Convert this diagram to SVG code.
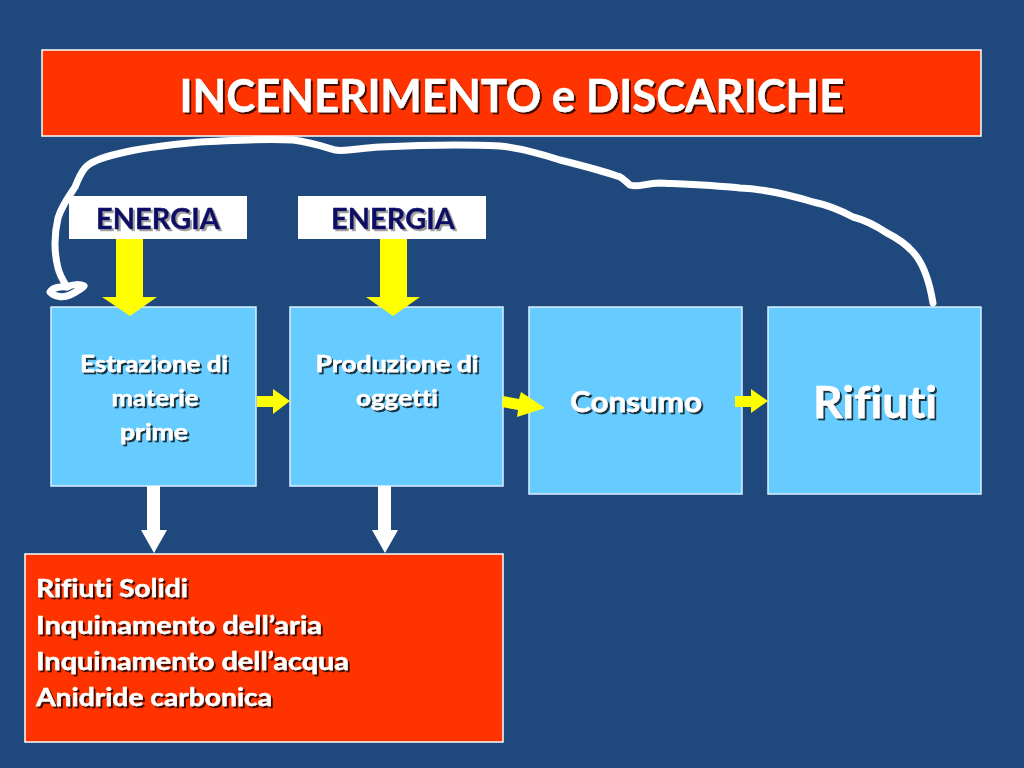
<svg xmlns="http://www.w3.org/2000/svg" width="1024" height="768" viewBox="0 0 1024 768">
<defs>
<style>
.bg{fill:#1F497D}
.box{fill:#66CCFF;stroke:#DDEEFF;stroke-width:1.5}
.red{fill:#FF3300;stroke:#FFFFFF;stroke-width:1.5}
.wbox{fill:#FFFFFF}
.t{font-family:Lato,"Open Sans","Liberation Sans",sans-serif;font-weight:bold;fill:#FFFFFF;stroke:#FFFFFF;stroke-width:0.4;font-variant-ligatures:none;filter:url(#sh)}
.tn{font-family:Lato,"Open Sans","Liberation Sans",sans-serif;font-weight:bold;fill:#0A0A66;stroke:#0A0A66;stroke-width:0.4;font-variant-ligatures:none;filter:url(#sh2)}
.ya{fill:#FFFF00}
.wa{fill:#FFFFFF}
.loop{fill:none;stroke:#FFFFFF;stroke-width:7;stroke-linecap:round;stroke-linejoin:round}
</style>
<filter id="sh" x="-10%" y="-30%" width="130%" height="160%">
<feDropShadow dx="2" dy="2" stdDeviation="0.6" flood-color="#000000" flood-opacity="0.75"/>
</filter>
<filter id="sh2" x="-10%" y="-30%" width="130%" height="160%">
<feDropShadow dx="2" dy="2" stdDeviation="0.6" flood-color="#888888" flood-opacity="0.8"/>
</filter>
</defs>
<rect class="bg" x="0" y="0" width="1024" height="768"/>

<g id="title">
<rect class="red" x="42" y="50" width="939" height="86"/>
<text class="t" x="512" y="112" font-size="45" text-anchor="middle" textLength="665" lengthAdjust="spacingAndGlyphs">INCENERIMENTO e DISCARICHE</text>
</g>

<g id="energia1">
<rect class="wbox" x="69" y="196" width="178" height="43"/>
<text class="tn" x="158" y="229" font-size="29" text-anchor="middle" textLength="124" lengthAdjust="spacingAndGlyphs">ENERGIA</text>
</g>
<g id="energia2">
<rect class="wbox" x="298" y="196" width="188" height="43"/>
<text class="tn" x="393" y="229" font-size="29" text-anchor="middle" textLength="124" lengthAdjust="spacingAndGlyphs">ENERGIA</text>
</g>

<g id="estrazione">
<rect class="box" x="51" y="307" width="205" height="179"/>
<text class="t" x="154" y="372" font-size="22" text-anchor="middle" textLength="148" lengthAdjust="spacingAndGlyphs">Estrazione di</text>
<text class="t" x="155" y="406" font-size="22" text-anchor="middle" textLength="87" lengthAdjust="spacingAndGlyphs">materie</text>
<text class="t" x="154" y="440" font-size="22" text-anchor="middle" textLength="68" lengthAdjust="spacingAndGlyphs">prime</text>
</g>
<g id="produzione">
<rect class="box" x="290" y="307" width="213" height="179"/>
<text class="t" x="397" y="372" font-size="22" text-anchor="middle" textLength="163" lengthAdjust="spacingAndGlyphs">Produzione di</text>
<text class="t" x="397" y="406" font-size="22" text-anchor="middle" textLength="82" lengthAdjust="spacingAndGlyphs">oggetti</text>
</g>
<g id="consumo">
<rect class="box" x="529" y="307" width="213" height="187"/>
<text class="t" x="636" y="412" font-size="29" text-anchor="middle" textLength="132" lengthAdjust="spacingAndGlyphs">Consumo</text>
</g>
<g id="rifiuti">
<rect class="box" x="768" y="307" width="213" height="187"/>
<text class="t" x="875" y="418" font-size="44" text-anchor="middle" textLength="124" lengthAdjust="spacingAndGlyphs">Rifiuti</text>
</g>

<g id="impatti">
<rect class="red" x="25" y="554" width="478" height="188"/>
<text class="t" x="36" y="597" font-size="24" textLength="152" lengthAdjust="spacingAndGlyphs">Rifiuti Solidi</text>
<text class="t" x="36" y="634" font-size="24" textLength="286" lengthAdjust="spacingAndGlyphs">Inquinamento dell’aria</text>
<text class="t" x="36" y="670" font-size="24" textLength="313" lengthAdjust="spacingAndGlyphs">Inquinamento dell’acqua</text>
<text class="t" x="36" y="706" font-size="24" textLength="236" lengthAdjust="spacingAndGlyphs">Anidride carbonica</text>
</g>

<g id="connectors">
<polygon class="ya" points="116,239 143,239 143,297 157,297 130,316 102,297 116,297"/>
<polygon class="ya" points="380,239 407,239 407,297 420,297 393,316 366,297 380,297"/>
<polygon class="ya" points="257,396 273,396 273,389 290,401 273,414 273,407 257,407"/>
<polygon class="ya" points="503,396 519,399 521,392 545,408 517,417 518,410 502,407"/>
<polygon class="ya" points="735,396 751,396 751,389 768,401 751,413 751,407 735,407"/>
<polygon class="wa" points="147,486 160,486 160,530 167,530 154,553 141,530 147,530"/>
<polygon class="wa" points="378,486 391,486 391,530 398,530 385,553 372,530 378,530"/>
<path class="loop" d="M933,303 C930,285 925,265 913,252 C905,243 897,238 887,233 C875,225 865,220 853,217 C840,210 828,205 813,202 C790,195 765,189 740,188 C710,185 680,184 660,183 C645,183 638,188 630,185 C622,178 620,176 617,176 C600,170 580,165 560,160 C535,152 520,148 500,146 C460,144 420,145 380,147 C360,148 345,152 335,150 C322,146 310,142 293,140 C260,138 230,141 200,142 C165,145 140,148 117,154 C100,158 90,162 85,168 C80,174 78,180 75,187 C70,195 62,205 58,218 C54,235 54,252 58,268 C60,276 64,282 67,287 C60,286 52,288 50,292 C55,297 63,298 70,295 C76,292 82,289 84,286 C80,284 73,284 67,287"/>
</g>
</svg>
